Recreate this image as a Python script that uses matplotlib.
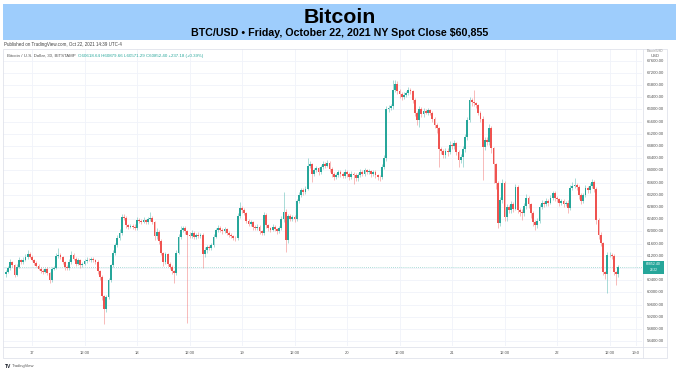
import matplotlib
matplotlib.use("Agg")
import matplotlib.pyplot as plt
from matplotlib.patches import Rectangle
from matplotlib import font_manager
import numpy as np

# ---------------- data ----------------
title = "Bitcoin"
subtitle = "BTC/USD \u2022 Friday, October 22, 2021 NY Spot Close $60,855"
published = "Published on TradingView.com, Oct 22, 2021 14:39 UTC-4"
legend_name = "Bitcoin / U.S. Dollar, 30, BITSTAMP"
legend_vals = "O60618.64 H60879.66 L60571.29 C60852.40 +237.18 (+0.39%)"
last_price = 60852.40
countdown = "28:22"

# 30-minute candles, starting Oct 16 18:00 (index 0)
first_open = 60600
closes = [
    60680, 60800, 60990, 60900, 60580, 60850, 61050, 61000, 61070, 61150,
    61260, 61180, 61070, 60980, 60880, 60780, 60700, 60680, 60760, 60640,
    60400, 60780, 60800, 61200, 61230, 61150, 61000, 60820, 60800, 61000,
    61230, 61100, 60950, 61050, 60900, 60950, 61020, 61080, 61060, 61100,
    61050, 61000, 60700, 60520, 59900, 59450, 59860, 60400, 60900, 61300,
    61550, 61800, 61950, 62480, 62450, 62200, 62150, 62180, 62150, 62100,
    62380, 62350, 62320, 62380, 62300, 62400, 62450, 62300, 61850, 61980,
    61700, 61300, 61000, 61250, 60950, 60850, 60700, 60640, 61300, 61830,
    62050, 62110, 62000, 61900, 61850, 61950, 61820, 61900, 61850, 61900,
    61250, 61400, 61500, 61450, 61550, 61830, 62050, 62110, 62050, 62000,
    62080, 61950, 61900, 61850, 61800, 61780, 62500, 62770, 62700, 62600,
    62350, 62250, 62300, 62150, 62100, 62150, 62000, 61950, 62540, 62200,
    62100, 62050, 62150, 62080, 62000, 62100, 62400, 62650, 61720, 62500,
    62420, 62480, 62400, 63000, 63200, 63350, 63300, 63400, 64150, 64200,
    63900, 64000, 64080, 63950, 64100, 64200, 64150, 64250, 64050, 63900,
    63800, 63850, 63950, 63900, 63820, 63950, 63880, 63800, 63900, 63850,
    63750, 63850, 63950, 63900, 64000, 63950, 63980, 63900, 63950, 63850,
    63800, 63780, 64120, 64400, 66000, 66050, 66100, 66640, 66850, 66600,
    66500, 66420, 66480, 66550, 66640, 66600, 66300, 65900, 65650, 66000,
    65850, 65950, 65900, 65980, 65900, 65700, 65500, 65390, 64700, 64650,
    64500, 64650, 64600, 64850, 64800, 64900, 64600, 64350, 64450, 64700,
    65100, 65650, 66310, 66250, 66200, 66140, 65900, 65700, 64780, 65000,
    64950, 65390, 64730, 64200, 63590, 62280, 63030, 63590, 62480, 62800,
    62700, 62900, 62750, 63470, 62700, 62650, 62600, 62850, 63100, 62900,
    62600, 62300, 62200, 62350, 62810, 62950, 62900, 63000, 62950, 63100,
    63260, 63100, 63050, 62950, 63000, 62900, 62950, 62770, 63420, 63500,
    63520, 63450, 63200, 63000, 63200, 63420, 63350, 63500, 63630, 63400,
    62380, 61900, 61620, 60680, 60600, 61230, 61230, 61200, 60680, 60600,
    60852,
]
# upper / lower wick lengths beyond the body, in units of $10
wick_up = [
    6, 8, 10, 5, 4, 9, 12, 6, 8, 10,
    13, 6, 5, 4, 6, 5, 4, 8, 5, 6,
    4, 6, 8, 10, 23, 6, 5, 4, 7, 9,
    12, 6, 5, 8, 4, 6, 7, 9, 5, 6,
    5, 4, 6, 3, 4, 3, 6, 8, 5, 9,
    7, 10, 12, 8, 10, 6, 5, 7, 6, 8,
    9, 5, 6, 8, 4, 7, 20, 6, 5, 12,
    6, 5, 4, 9, 5, 6, 4, 5, 8, 10,
    12, 8, 6, 5, 7, 9, 5, 6, 7, 5,
    6, 8, 5, 6, 7, 9, 8, 10, 6, 5,
    7, 5, 6, 4, 5, 6, 10, 21, 8, 6,
    5, 6, 7, 5, 6, 8, 5, 4, 9, 6,
    5, 6, 8, 5, 4, 7, 10, 65, 8, 9,
    6, 7, 5, 8, 10, 9, 6, 8, 26, 10,
    6, 7, 8, 5, 9, 12, 8, 10, 6, 5,
    6, 8, 7, 5, 6, 9, 5, 6, 8, 5,
    6, 8, 9, 5, 8, 6, 7, 5, 8, 6,
    5, 6, 8, 10, 12, 10, 8, 33, 12, 9,
    6, 8, 10, 7, 9, 6, 5, 8, 6, 10,
    8, 9, 7, 6, 5, 6, 5, 6, 5, 6,
    7, 8, 9, 12, 6, 10, 5, 6, 8, 9,
    10, 12, 9, 8, 39, 6, 5, 6, 8, 9,
    10, 12, 6, 5, 6, 8, 10, 12, 6, 9,
    8, 10, 6, 9, 5, 6, 8, 10, 12, 6,
    5, 6, 7, 9, 10, 8, 6, 9, 7, 10,
    8, 6, 5, 6, 8, 5, 6, 7, 10, 12,
    23, 8, 6, 5, 7, 9, 6, 10, 9, 6,
    5, 6, 8, 5, 4, 9, 10, 6, 5, 4,
    6,
]
wick_dn = [
    10, 5, 6, 8, 6, 5, 4, 6, 5, 4,
    5, 6, 5, 8, 6, 5, 7, 6, 5, 6,
    10, 6, 5, 4, 6, 5, 7, 9, 6, 5,
    6, 5, 8, 6, 10, 5, 6, 5, 4, 6,
    5, 6, 10, 12, 15, 47, 10, 8, 6, 5,
    6, 5, 7, 6, 8, 10, 6, 5, 7, 6,
    5, 6, 8, 5, 7, 6, 5, 6, 12, 8,
    10, 8, 12, 6, 9, 8, 10, 34, 6, 5,
    6, 8, 7, 290, 6, 5, 8, 6, 7, 5,
    45, 8, 10, 6, 5, 6, 5, 7, 6, 8,
    6, 7, 8, 6, 9, 10, 6, 5, 8, 6,
    7, 6, 8, 10, 6, 5, 9, 8, 6, 10,
    8, 6, 5, 7, 9, 6, 5, 8, 39, 10,
    8, 6, 9, 5, 7, 8, 10, 6, 5, 8,
    27, 8, 6, 10, 5, 6, 8, 5, 9, 10,
    12, 8, 6, 10, 8, 6, 9, 12, 8, 30,
    10, 8, 6, 9, 7, 8, 6, 10, 8, 9,
    10, 12, 6, 8, 10, 8, 6, 9, 8, 10,
    12, 10, 8, 6, 7, 9, 10, 12, 15, 21,
    10, 8, 6, 9, 8, 10, 12, 15, 58, 12,
    10, 8, 12, 6, 9, 8, 10, 23, 10, 33,
    8, 10, 6, 12, 9, 10, 8, 12, 108, 10,
    12, 10, 15, 60, 20, 15, 10, 8, 12, 15,
    10, 8, 12, 6, 10, 15, 22, 8, 10, 12,
    15, 12, 15, 10, 8, 6, 9, 8, 10, 6,
    8, 10, 9, 12, 8, 10, 6, 15, 8, 6,
    8, 10, 12, 9, 8, 6, 10, 8, 6, 9,
    12, 15, 10, 12, 15, 62, 8, 10, 12, 35,
    10,
]

price_ticks = list(range(58400, 67601, 400))
time_tick_pos = [12, 36, 60, 84, 108, 132, 156, 180, 204, 228, 252, 276, 288]
time_tick_labels = ["17", "12:00", "18", "12:00", "19", "12:00", "20", "12:00",
                    "21", "12:00", "22", "12:00", "19:0"]

# ---------------- figure ----------------
W, H = 679, 376
fig = plt.figure(figsize=(W / 100, H / 100), dpi=100)
fig.patch.set_facecolor("white")

def fx(x):
    return x / W

def fy(y):
    return 1 - y / H

avail = {f.name for f in font_manager.fontManager.ttflist}
narrow = "Liberation Sans Narrow" if "Liberation Sans Narrow" in avail else "Liberation Sans"

# banner
fig.patches.append(Rectangle((fx(3), fy(40)), fx(676) - fx(3), fy(4) - fy(40),
                             transform=fig.transFigure, facecolor="#9ecdfc",
                             edgecolor="none", zorder=0))

renderer = fig.canvas.get_renderer()

def fit_text(x, y, s, width_px, size0, **kw):
    t = fig.text(fx(x), fy(y), s, fontsize=size0, **kw)
    w = t.get_window_extent(renderer=renderer).width
    if w > 0:
        t.set_fontsize(size0 * width_px / w)
    return t

fit_text(339.5, 17.5, title, 73, 15, ha="center", va="center",
         fontweight="bold", family=["Liberation Sans", "DejaVu Sans"], color="black")
fit_text(339.5, 33, subtitle, 298, 10, ha="center", va="center",
         fontweight="bold", family=[narrow, "DejaVu Sans"], color="black")
fit_text(4, 44.5, published, 115, 3, ha="left", va="center",
         family=["Liberation Sans", "DejaVu Sans"], color="#444444")

# panel outline
fig.patches.append(Rectangle((fx(3), fy(358)), fx(667) - fx(3), fy(49) - fy(358),
                             transform=fig.transFigure, facecolor="none",
                             edgecolor="#e0e3eb", lw=0.6, zorder=1))

# main axes
x_left, x_right, y_top, y_bot = 3, 642, 49, 346
ax = fig.add_axes([fx(x_left), fy(y_bot), fx(x_right) - fx(x_left), fy(y_top) - fy(y_bot)])
ax.set_facecolor("white")
for s in ax.spines.values():
    s.set_visible(False)
ax.set_xticks([])
ax.set_yticks([])

n = len(closes)
assert len(wick_up) == n and len(wick_dn) == n
idx = np.arange(n)
c = np.array(closes, dtype=float)
o = np.concatenate([[first_open], c[:-1]])
top = np.maximum(o, c)
bot = np.minimum(o, c)
hi = top + np.array(wick_up) * 10
lo = bot - np.array(wick_dn) * 10

# axis ranges derived from pixel layout
px_per_candle = 2.1875
x0_px = 5.75
ax.set_xlim((x_left - x0_px) / px_per_candle, (x_right - x0_px) / px_per_candle)
px_per_dollar = 12.2 / 400
y67600 = 60.7
ax.set_ylim(67600 - (y_bot - y67600) / px_per_dollar, 67600 + (y67600 - y_top) / px_per_dollar)

grid_col = "#f0f3fa"
for p in price_ticks:
    ax.axhline(p, color=grid_col, lw=0.6, zorder=0)
for t in time_tick_pos:
    ax.axvline(t, color=grid_col, lw=0.6, zorder=0)

up_col, dn_col = "#26a69a", "#ef5350"
cols = np.where(c >= o, up_col, dn_col)
ax.vlines(idx, lo, hi, colors=cols, lw=0.55, alpha=0.5, zorder=2)
heights = np.maximum(top - bot, 15)
ax.bar(idx, heights, bottom=bot, width=0.85, color=cols, edgecolor="none", zorder=3)

# last-price dotted line
ax.axhline(last_price, color=up_col, lw=0.6, ls=(0, (1, 1.5)), alpha=0.5, zorder=1)

# separators
fig.add_artist(plt.Line2D([fx(643), fx(643)], [fy(358), fy(49)], color="#e0e3eb", lw=0.6))
fig.add_artist(plt.Line2D([fx(3), fx(667)], [fy(346.5), fy(346.5)], color="#e0e3eb", lw=0.6))

# price axis labels
ymin, ymax = ax.get_ylim()
def price_to_py(p):
    return y_top + (ymax - p) / (ymax - ymin) * (y_bot - y_top)

lab_font = ["Liberation Sans", "DejaVu Sans"]
box_y = price_to_py(last_price)
box_top, box_bot = box_y - 5.5, box_y + 7
for p in price_ticks:
    yy = price_to_py(p)
    if yy < 58:
        continue
    if box_top - 2.5 < yy < box_bot + 2.5:
        continue  # hidden behind the last-price box
    fig.text(fx(655), fy(yy), f"{p:.2f}", fontsize=3.1, ha="center", va="center",
             family=lab_font, color="#555555")
fig.text(fx(655), fy(51), "Bitcoin/USD", fontsize=2.2, ha="center", va="center",
         family=lab_font, color="#888888")
fig.text(fx(655), fy(55.7), "USD", fontsize=3.0, ha="center", va="center",
         family=lab_font, color="#555555")

# last price box
fig.patches.append(Rectangle((fx(643), fy(box_bot)), fx(664) - fx(643), fy(box_top) - fy(box_bot),
                             transform=fig.transFigure, facecolor=up_col, edgecolor="none", zorder=3))
fig.text(fx(653.5), fy(box_y - 2.6), f"{last_price:.2f}", fontsize=2.5, ha="center", va="center",
         family=lab_font, color="white", zorder=4)
fig.text(fx(653.5), fy(box_y + 3.8), countdown, fontsize=2.3, ha="center", va="center",
         family=lab_font, color="white", zorder=4)

# time axis labels
xmin, xmax = ax.get_xlim()
for t, lab in zip(time_tick_pos, time_tick_labels):
    px = x_left + (t - xmin) / (xmax - xmin) * (x_right - x_left)
    fig.text(fx(px), fy(352.5), lab, fontsize=3.0, ha="center", va="center",
             family=lab_font, color="#555555")

# legend line
t1 = fit_text(7, 55.5, legend_name, 68, 3, ha="left", va="center",
              family=lab_font, color="#555555")
fig.text(fx(78), fy(55.5), legend_vals, fontsize=t1.get_fontsize(), ha="left", va="center",
         family=lab_font, color=up_col)

# TradingView logo
fig.text(fx(5), fy(366), "TV", fontsize=3.6, ha="left", va="center",
         fontweight="bold", family=lab_font, color="#131722")
fig.text(fx(11.5), fy(366), "TradingView", fontsize=3.0, ha="left", va="center",
         family=lab_font, color="#555555")

fig.savefig("out.png", dpi=100, facecolor="white")
